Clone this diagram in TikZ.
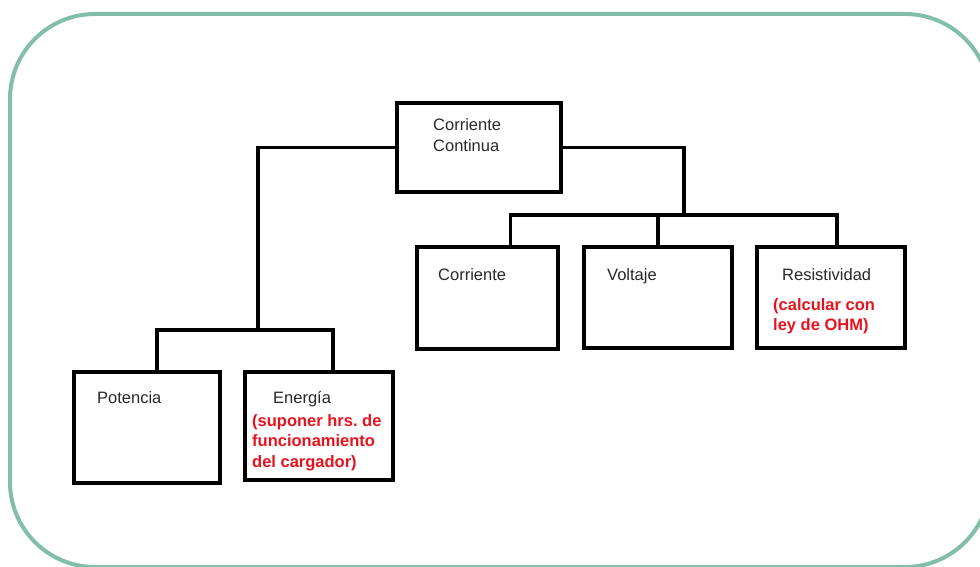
\documentclass[tikz,border=0pt]{standalone}
\usepackage{fontspec}
\setmainfont{Liberation Sans}
\definecolor{borde}{RGB}{130,190,168}
\definecolor{gristexto}{RGB}{40,40,40}
\definecolor{rojo}{RGB}{232,18,30}
\begin{document}
\begin{tikzpicture}[x=1pt, y=-1pt,
    caja/.style={draw, line width=4.5pt, inner sep=0pt, outer sep=0pt},
    linea/.style={line width=3.2pt},
    texto/.style={anchor=north west, inner sep=0pt, align=left, text=gristexto,
      font=\fontsize{16.5}{21}\selectfont},
    nota/.style={texto, text=rojo, font=\fontsize{16.5}{20.5}\selectfont\bfseries}]
  \useasboundingbox (0,0) rectangle (980,567);
  \clip (0,0) rectangle (980,567);
  % marco
  \draw[line width=4pt, borde, rounded corners=85pt] (10,14) rectangle (990,567);
  % cajas
  \node[caja, minimum width=164pt, minimum height=89pt] (cc) at (479,147.5) {};
  \node[caja, minimum width=146pt, minimum height=111pt] (pot) at (147,427.5) {};
  \node[caja, minimum width=148pt, minimum height=108pt] (ene) at (319,426) {};
  \node[caja, minimum width=141pt, minimum height=102pt] (cor) at (487.5,298) {};
  \node[caja, minimum width=148pt, minimum height=101pt] (vol) at (658,297.5) {};
  \node[caja, minimum width=148pt, minimum height=101pt] (res) at (831,297.5) {};
  % textos
  \node[texto] (tcc) at ([shift={(36,15)}]cc.north west) {Corriente\\Continua};
  \node[texto] (tpot) at ([shift={(23,19)}]pot.north west) {Potencia};
  \node[texto] (tene) at ([shift={(28,19)}]ene.north west) {Energía};
  \node[nota] (nene) at ([shift={(7,42)}]ene.north west) {(suponer hrs.\ de\\funcionamiento\\del cargador)};
  \node[texto] (tcor) at ([shift={(21,21)}]cor.north west) {Corriente};
  \node[texto] (tvol) at ([shift={(23,21)}]vol.north west) {Voltaje};
  \node[texto] (tres) at ([shift={(25,21)}]res.north west) {Resistividad};
  \node[nota] (nres) at ([shift={(16,51)}]res.north west) {(calcular con\\ley de OHM)};
  % uniones
  \coordinate (jl) at (258,330);
  \coordinate (jr) at (684,215);
  \draw[linea] (cc.west) -| (jl);
  \draw[linea] ([xshift=10pt]pot.north) |- (jl) -| ([xshift=14pt]ene.north);
  \draw[linea] (cc.east) -| (jr);
  \draw[linea] ([xshift=23pt]cor.north) |- (jr) -| ([xshift=6pt]res.north);
  \draw[linea] (vol.north) -- (vol.north |- jr);
\end{tikzpicture}
\end{document}
